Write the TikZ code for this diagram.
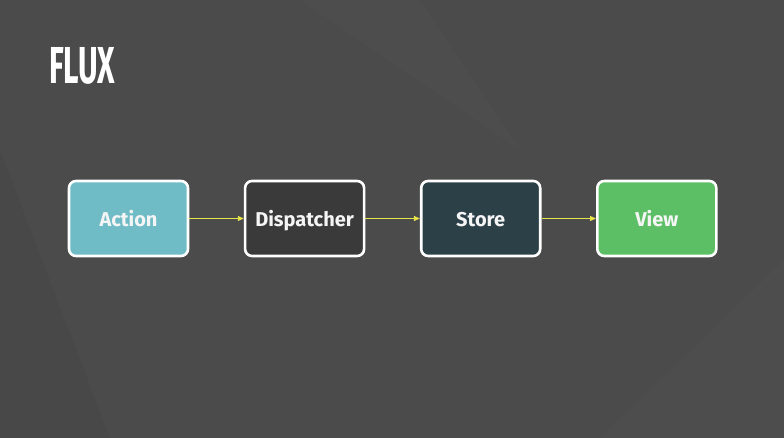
\documentclass[tikz,border=0pt]{standalone}
\usepackage{fontspec}
\setmainfont{Fira Sans}
\usepackage{tikz}
\usetikzlibrary{arrows.meta,positioning}
\usepackage{xcolor}
\definecolor{slatebg}{HTML}{4A4B4A}
\definecolor{actionfill}{HTML}{6FBCC6}
\definecolor{dispfill}{HTML}{3A3A3A}
\definecolor{storefill}{HTML}{2C4048}
\definecolor{viewfill}{HTML}{5CBF65}
\definecolor{flowyellow}{HTML}{E6E44A}

\begin{document}
\begin{tikzpicture}[x=1pt, y=-1pt,
      stage/.style={draw=white, line width=2.6pt, rounded corners=7pt,
                    minimum width=119pt, minimum height=75pt,
                    text height=18pt, text depth=2pt,
                    font=\fontsize{20}{24}\selectfont\bfseries, text=white!92!gray},
      flow/.style={-{Triangle[length=6pt, width=5pt]}, draw=flowyellow, line width=1pt},
      heading/.style={font=\fontsize{52}{56}\selectfont\bfseries, text=white, anchor=west},
    ]
    % Slide background
    \fill[slatebg] (0,0) rectangle (784,438);
    \useasboundingbox (0,0) rectangle (784,438);
    \fill[white, opacity=0.012] (300,0) -- (520,150) -- (420,0) -- cycle;
    \fill[black, opacity=0.03] (0,150) -- (110,438) -- (0,438) -- cycle;
    \fill[white, opacity=0.012] (600,438) -- (784,260) -- (784,438) -- cycle;

    % Title
    \node[heading, xscale=0.58] (title) at (47,66) {FLUX};

    % Stages
    \node[stage, fill=actionfill] (action) at (128.5,218.5) {Action};
    \node[stage, fill=dispfill, right=54.5pt of action] (dispatcher) {Dispatcher};
    \node[stage, fill=storefill, right=54.5pt of dispatcher] (store) {Store};
    \node[stage, fill=viewfill, right=54.5pt of store] (view) {View};

    % One-way data flow
    \foreach \a/\b in {action/dispatcher, dispatcher/store, store/view}
      \draw[flow] (\a) -- (\b);
  \end{tikzpicture}
\end{document}
